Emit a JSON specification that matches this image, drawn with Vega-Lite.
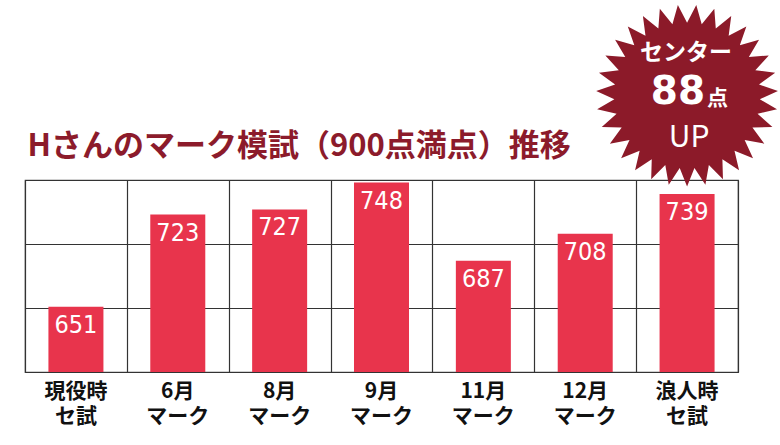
{
  "$schema": "https://vega.github.io/schema/vega-lite/v6.json",
  "width": 713,
  "height": 192,
  "autosize": {"type": "none"},
  "padding": {"left": 25, "top": 180, "right": 42, "bottom": 73},
  "background": "white",
  "config": {
    "view": {"stroke": "#444", "strokeWidth": 1.2},
    "axis": {"gridColor": "#333", "gridWidth": 1.2, "gridOpacity": 1}
  },
  "datasets": {
    "scores": [
      {"cat": "現役時 セ試", "score": 651},
      {"cat": "6月 マーク", "score": 723},
      {"cat": "8月 マーク", "score": 727},
      {"cat": "9月 マーク", "score": 748},
      {"cat": "11月 マーク", "score": 687},
      {"cat": "12月 マーク", "score": 708},
      {"cat": "浪人時 セ試", "score": 739}
    ],
    "badge": [
      {"cat": "浪人時 セ試", "v": 816}
    ],
    "badgeText": [
      {"cat": "浪人時 セ試", "v": 849, "t": "センター", "part": "a"},
      {"cat": "浪人時 セ試", "v": 809, "t": "88", "part": "b"},
      {"cat": "浪人時 セ試", "v": 809, "t": "点", "part": "c"},
      {"cat": "浪人時 セ試", "v": 783, "t": "UP", "part": "d"}
    ]
  },
  "resolve": {"axis": {"x": "independent"}},
  "layer": [
    {
      "data": {"name": "scores"},
      "mark": {"type": "bar", "color": "#e8344c", "width": {"band": 0.54}},
      "encoding": {
        "x": {
          "field": "cat",
          "type": "nominal",
          "sort": null,
          "scale": {"paddingInner": 0, "paddingOuter": 0},
          "axis": {
            "orient": "bottom",
            "title": null,
            "grid": false,
            "ticks": false,
            "domain": false,
            "labelAngle": 0,
            "labelExpr": "split(datum.value, ' ')",
            "labelFont": "Noto Sans CJK JP",
            "labelFontSize": 21,
            "labelFontWeight": "bold",
            "labelColor": "#111",
            "labelLineHeight": 25,
            "labelPadding": 8,
            "labelBaseline": "top"
          }
        },
        "y": {
          "field": "score",
          "type": "quantitative",
          "scale": {"domain": [600, 750], "zero": false, "nice": false},
          "axis": {"title": null, "values": [600, 650, 700, 750], "labels": false, "ticks": false, "domain": false, "grid": true}
        },
        "y2": {"datum": 600}
      }
    },
    {
      "data": {"name": "scores"},
      "mark": {
        "type": "text",
        "color": "white",
        "baseline": "top",
        "dy": 6,
        "font": "Liberation Sans Narrow, DejaVu Sans Condensed, Roboto, sans-serif",
        "fontSize": 25,
        "fontWeight": "normal"
      },
      "encoding": {
        "x": {
          "field": "cat",
          "type": "nominal",
          "sort": null,
          "axis": {
            "orient": "top",
            "grid": true,
            "tickBand": "extent",
            "labels": false,
            "ticks": false,
            "domain": false,
            "title": "Hさんのマーク模試（900点満点）推移",
            "titleAnchor": "start",
            "titleAlign": "left",
            "titleBaseline": "alphabetic",
            "titlePadding": 25,
            "titleFont": "Noto Sans CJK JP",
            "titleFontSize": 31,
            "titleFontWeight": "bold",
            "titleColor": "#8c1b2b",
            "titleX": 2
          }
        },
        "y": {
          "field": "score",
          "type": "quantitative",
          "axis": {"title": null, "values": [600, 650, 700, 750], "labels": false, "ticks": false, "domain": false, "grid": true}
        },
        "text": {"field": "score", "type": "quantitative", "format": "d"}
      }
    },
    {
      "data": {"name": "badge"},
      "mark": {
        "type": "point",
        "filled": true,
        "clip": false,
        "opacity": 1,
        "color": "#8c1a29",
        "size": 33124,
        "shape": "M0,-0.8L0.1012,-0.9949L0.1610,-0.7836L0.2993,-0.9541L0.3155,-0.7352L0.4853,-0.8743L0.4570,-0.6566L0.6514,-0.7588L0.5798,-0.5512L0.7908,-0.6121L0.6789,-0.4232L0.8978,-0.4404L0.7502,-0.2778L0.9681,-0.2506L0.7908,-0.1211L0.9987,-0.0506L0.7990,0.0405L0.9885,0.1514L0.7745,0.2005L0.9378,0.3473L0.7182,0.3523L0.8486,0.5290L0.6326,0.4897L0.7248,0.6890L0.5211,0.6070L0.5713,0.8208L0.3882,0.6994L0.3944,0.9190L0.2394,0.7633L0.2013,0.9795L0.0810,0.7959L0,1L-0.0810,0.7959L-0.2013,0.9795L-0.2394,0.7633L-0.3944,0.9190L-0.3882,0.6994L-0.5713,0.8208L-0.5211,0.6070L-0.7248,0.6890L-0.6326,0.4897L-0.8486,0.5290L-0.7182,0.3523L-0.9378,0.3473L-0.7745,0.2005L-0.9885,0.1514L-0.7990,0.0405L-0.9987,-0.0506L-0.7908,-0.1211L-0.9681,-0.2506L-0.7502,-0.2778L-0.8978,-0.4404L-0.6789,-0.4232L-0.7908,-0.6121L-0.5798,-0.5512L-0.6514,-0.7588L-0.4570,-0.6566L-0.4853,-0.8743L-0.3155,-0.7352L-0.2993,-0.9541L-0.1610,-0.7836L-0.1012,-0.9949Z"
      },
      "encoding": {
        "x": {"field": "cat", "type": "nominal", "sort": null, "axis": null},
        "y": {
          "field": "v",
          "type": "quantitative",
          "axis": {"title": null, "values": [600, 650, 700, 750], "labels": false, "ticks": false, "domain": false, "grid": true}
        }
      }
    },
    {
      "data": {"name": "badgeText"},
      "transform": [{"filter": "datum.part == 'a'"}],
      "mark": {"type": "text", "clip": false, "color": "white", "font": "Noto Sans CJK JP", "fontSize": 23, "fontWeight": "bold", "baseline": "middle", "dx": -1},
      "encoding": {
        "x": {"field": "cat", "type": "nominal", "sort": null, "axis": null},
        "y": {
          "field": "v",
          "type": "quantitative",
          "axis": {"title": null, "values": [600, 650, 700, 750], "labels": false, "ticks": false, "domain": false, "grid": true}
        },
        "text": {"field": "t"}
      }
    },
    {
      "data": {"name": "badgeText"},
      "transform": [{"filter": "datum.part == 'b'"}],
      "mark": {"type": "text", "clip": false, "color": "white", "font": "DejaVu Sans", "fontSize": 39, "fontWeight": "bold", "baseline": "alphabetic", "align": "right", "dx": 18},
      "encoding": {
        "x": {"field": "cat", "type": "nominal", "sort": null, "axis": null},
        "y": {
          "field": "v",
          "type": "quantitative",
          "axis": {"title": null, "values": [600, 650, 700, 750], "labels": false, "ticks": false, "domain": false, "grid": true}
        },
        "text": {"field": "t"}
      }
    },
    {
      "data": {"name": "badgeText"},
      "transform": [{"filter": "datum.part == 'c'"}],
      "mark": {"type": "text", "clip": false, "color": "white", "font": "Noto Sans CJK JP", "fontSize": 21, "fontWeight": "bold", "baseline": "alphabetic", "align": "left", "dx": 20, "dy": 1},
      "encoding": {
        "x": {"field": "cat", "type": "nominal", "sort": null, "axis": null},
        "y": {
          "field": "v",
          "type": "quantitative",
          "axis": {"title": null, "values": [600, 650, 700, 750], "labels": false, "ticks": false, "domain": false, "grid": true}
        },
        "text": {"field": "t"}
      }
    },
    {
      "data": {"name": "badgeText"},
      "transform": [{"filter": "datum.part == 'd'"}],
      "mark": {"type": "text", "clip": false, "color": "white", "font": "Noto Sans CJK JP", "fontSize": 30, "fontWeight": "normal", "baseline": "middle", "dx": 2},
      "encoding": {
        "x": {"field": "cat", "type": "nominal", "sort": null, "axis": null},
        "y": {
          "field": "v",
          "type": "quantitative",
          "axis": {"title": null, "values": [600, 650, 700, 750], "labels": false, "ticks": false, "domain": false, "grid": true}
        },
        "text": {"field": "t"}
      }
    }
  ]
}
